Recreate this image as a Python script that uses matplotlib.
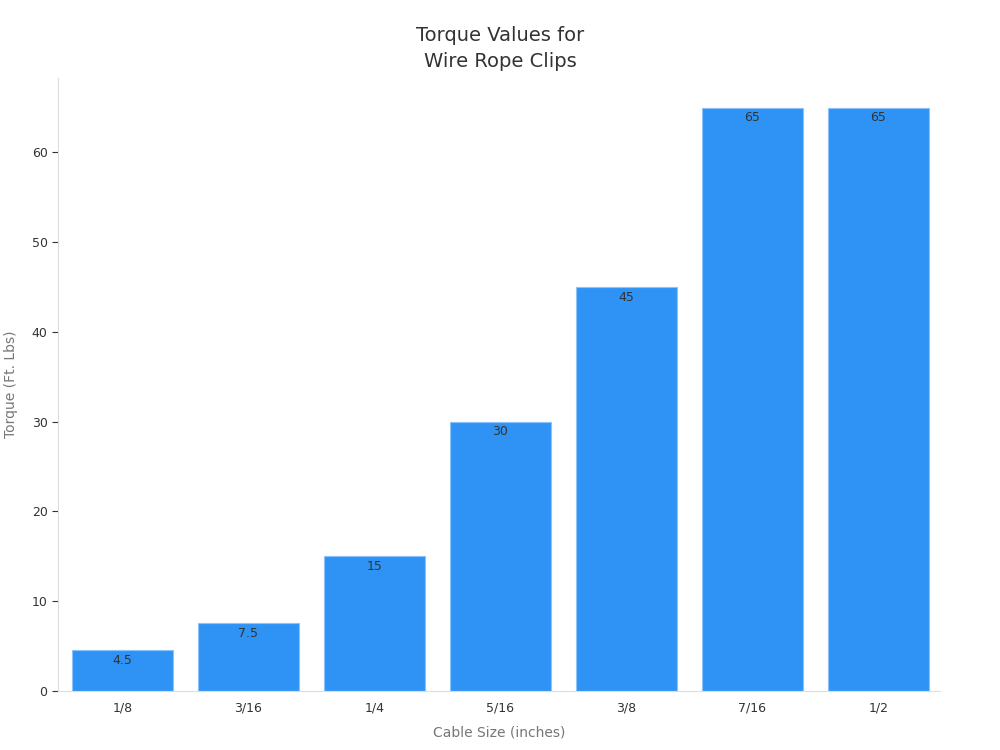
import matplotlib
matplotlib.use("Agg")
import matplotlib.pyplot as plt

# data
sizes = ["1/8", "3/16", "1/4", "5/16", "3/8", "7/16", "1/2"]
torque = [4.5, 7.5, 15, 30, 45, 65, 65]
labels = ["4.5", "7.5", "15", "30", "45", "65", "65"]

fig = plt.figure(figsize=(10, 7.5), dpi=100)
ax = fig.add_axes([0.058, 0.079, 0.882, 0.817])

bars = ax.bar(range(len(sizes)), torque, width=0.8, color="#2e93f5",
              edgecolor="#8cc4fa", linewidth=0.8)
for b, t in zip(bars, labels):
    ax.text(b.get_x() + b.get_width() / 2, b.get_height() - 0.4, t,
            ha="center", va="top", fontsize=9, color="#333333")

ax.set_xlim(-0.51, 6.49)
ax.set_ylim(0, 68.3)
ax.set_xticks(range(len(sizes)))
ax.set_xticklabels(sizes)
ax.set_yticks([0, 10, 20, 30, 40, 50, 60])
ax.tick_params(labelsize=9, colors="#333333", length=4)
ax.tick_params(axis="x", length=0, pad=8)
for s in ["top", "right"]:
    ax.spines[s].set_visible(False)
for s in ["left", "bottom"]:
    ax.spines[s].set_color("#dddddd")

ax.set_xlabel("Cable Size (inches)", fontsize=10, color="#777777", labelpad=8)
ax.set_ylabel("Torque (Ft. Lbs)", fontsize=10, color="#777777", labelpad=10)
fig.suptitle("Torque Values for\nWire Rope Clips", fontsize=14, color="#333333",
             y=0.965, linespacing=1.45)

fig.savefig("out.png", dpi=100)
